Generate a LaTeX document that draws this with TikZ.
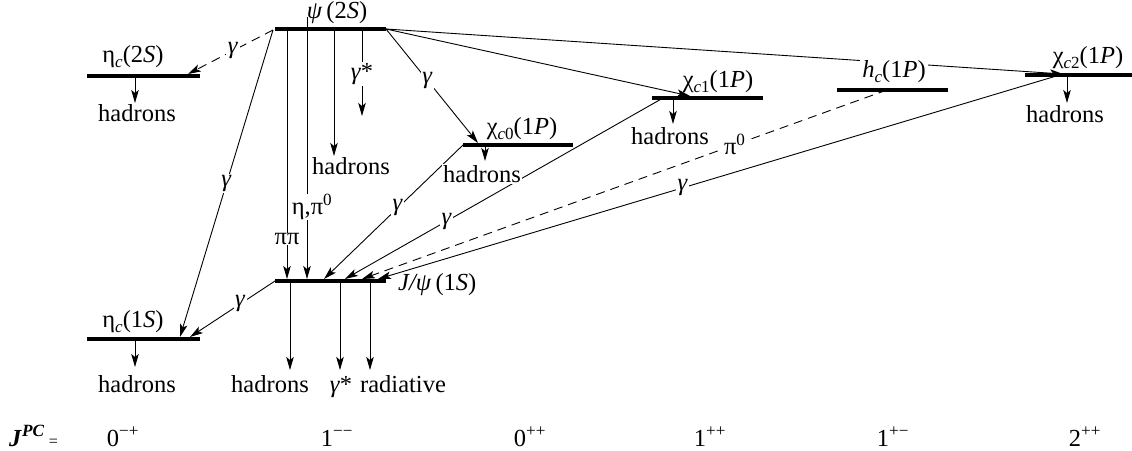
\documentclass[tikz,border=0pt]{standalone}
\usepackage{fontspec}
\setmainfont{Liberation Serif}
\usetikzlibrary{arrows.meta}
\newcommand{\isub}[1]{\raisebox{-5pt}{\fontsize{17}{17}\selectfont #1}}
\newcommand{\gm}{\textit{γ}}
\begin{document}
\begin{tikzpicture}[x=1pt,y=-1pt,
  font=\fontsize{24.5}{29}\selectfont,
  lvl/.style={line width=3.5pt},
  tr/.style={line width=0.9pt,-{Stealth[length=13pt,width=7.5pt,inset=3pt]}},
  dsh/.style={dash pattern=on 9pt off 6pt},
  lab/.style={fill=white,inner sep=1.5pt},
  txt/.style={anchor=base,inner sep=0pt},
  had/.style={anchor=base,fill=white,inner sep=1.5pt},
]
\useasboundingbox (0,0) rectangle (1132,450);
% level end points
\coordinate (psiL) at (275,29);  \coordinate (psiR) at (386,29);
\coordinate (ec2L) at (87,76);   \coordinate (ec2R) at (200,76);
\coordinate (c0L) at (463,145);  \coordinate (c0R) at (573,145);
\coordinate (c1L) at (652,98);   \coordinate (c1R) at (763,98);
\coordinate (hcL) at (837,90);   \coordinate (hcR) at (948,90);
\coordinate (c2L) at (1025,75);  \coordinate (c2R) at (1134,75);
\coordinate (jpL) at (275,281);  \coordinate (jpR) at (386,281);
\coordinate (ec1L) at (87,339);  \coordinate (ec1R) at (200,339);
% levels
\foreach \a/\b in {psiL/psiR,ec2L/ec2R,c0L/c0R,c1L/c1R,hcL/hcR,c2L/c2R,jpL/jpR,ec1L/ec1R}
  \draw[lvl] (\a) -- (\b);
% transition points
\coordinate (psiA) at (273,30);
\coordinate (ec2T) at (188,74);
\coordinate (ec1T) at (180,337);
\coordinate (pp0) at (287,29);  \coordinate (pp1) at (287,279);
\coordinate (ep0) at (307,17);  \coordinate (ep1) at (307,279);
\coordinate (ph0) at (334,29);  \coordinate (ph1) at (334,156);
\coordinate (gs0) at (362,29);  \coordinate (gs1) at (362,116);
\coordinate (c0T) at (478,143);
\coordinate (c1T) at (690,96);
\coordinate (c2T) at (1063,74);
\coordinate (c1S) at (663,98);
\coordinate (hcS) at (887,90);
\coordinate (jpT3) at (324,279);
\coordinate (jpT4) at (345,279);
\coordinate (jpT5) at (362,279);
\coordinate (jpT6) at (378,279);
\coordinate (ec1T2) at (190,337);
% psi(2S) decays
\draw[tr,dsh] (psiA) -- node[lab,pos=0.47] (g1) {\gm} (ec2T);
\draw[tr] (psiA) -- node[lab,pos=0.5] (g2) {\gm} (ec1T);
\draw[tr] (pp0) -- node[lab,pos=0.84,inner sep=0.5pt] (lpp) {ππ} (pp1);
\draw[tr] (ep0) -- node[lab,pos=0.725,xshift=5pt,inner sep=0.5pt] (lep) {η,π\textsuperscript{0}} (ep1);
\draw[tr] (ph0) -- (ph1);
\draw[tr] (gs0) -- node[lab,pos=0.52] (lgs) {\gm*} (gs1);
\draw[tr] (psiR) -- node[lab,pos=0.45] (g3) {\gm} (c0T);
\draw[tr] (psiR) -- (c1T);
\draw[tr] (psiR) -- (c2T);
% P-wave to J/psi
\draw[tr] (c0L) -- node[lab,pos=0.47] (g4) {\gm} (jpT3);
\draw[tr] (c1S) -- node[lab,pos=0.68] (g5) {\gm} (jpT4);
\draw[tr,dsh] (hcS) -- node[lab,pos=0.29] (lpi) {π\textsuperscript{0}} (jpT5);
\draw[tr] (c2T) -- node[lab,pos=0.555] (g6) {\gm} (jpT6);
\draw[tr] (jpL) -- node[lab,pos=0.41] (g7) {\gm} (ec1T2);
% hadron arrows
\coordinate (a1) at (135,76);   \coordinate (b1) at (135,103);
\coordinate (a2) at (485,145);  \coordinate (b2) at (485,161);
\coordinate (a3) at (673,98);   \coordinate (b3) at (673,124);
\coordinate (a4) at (1067,75);  \coordinate (b4) at (1067,103);
\coordinate (a5) at (135,339);  \coordinate (b5) at (135,367);
\coordinate (a6) at (290,281);  \coordinate (b6) at (290,370);
\coordinate (a7) at (340,281);  \coordinate (b7) at (340,370);
\coordinate (a8) at (370,281);  \coordinate (b8) at (370,370);
\foreach \i in {1,...,8} \draw[tr] (a\i) -- (b\i);
% level labels
\node[txt] (psiN) at (337,18) {\textit{ψ}\,(2\textit{S})};
\node[txt] (ec2N) at (133,62) {η\isub{\textit{c}}(2\textit{S})};
\node[txt] (c0N) at (522,134) {χ\isub{\textit{c}0}(1\textit{P})};
\node[txt] (c1N) at (718,87) {χ\isub{\textit{c}1}(1\textit{P})};
\node[txt,fill=white,inner sep=2pt] (hcN) at (894,77) {\textit{h}\isub{\textit{c}}(1\textit{P})};
\node[txt] (c2N) at (1088,63) {χ\isub{\textit{c}2}(1\textit{P})};
\node[txt,anchor=base west] (jpN) at (398,290) {\textit{J/ψ}\,(1\textit{S})};
\node[txt] (ec1N) at (133,327) {η\isub{\textit{c}}(1\textit{S})};
% hadrons labels
\node[had] (h1) at (137,121) {hadrons};
\node[had] (h2) at (351,174) {hadrons};
\node[had] (h3) at (482,182) {hadrons};
\node[had] (h4) at (670,144) {hadrons};
\node[had] (h5) at (1065,122) {hadrons};
\node[had] (h6) at (137,392) {hadrons};
\node[had] (h7) at (270,392) {hadrons};
\node[had] (h8) at (341,392) {\gm*};
\node[had] (h9) at (403,392) {radiative};
% J^PC row
\node[txt,anchor=base west] (jpc) at (9,446) {\textbf{\textit{J}}\textsuperscript{\textbf{\textit{PC}}}\,{\fontsize{16}{16}\selectfont =}};
\node[txt] (q1) at (123,446) {0\textsuperscript{−+}};
\node[txt] (q2) at (337,446) {1\textsuperscript{−−}};
\node[txt] (q3) at (530,446) {0\textsuperscript{++}};
\node[txt] (q4) at (710,446) {1\textsuperscript{++}};
\node[txt] (q5) at (893,446) {1\textsuperscript{+−}};
\node[txt] (q6) at (1085,446) {2\textsuperscript{++}};
\end{tikzpicture}
\end{document}
